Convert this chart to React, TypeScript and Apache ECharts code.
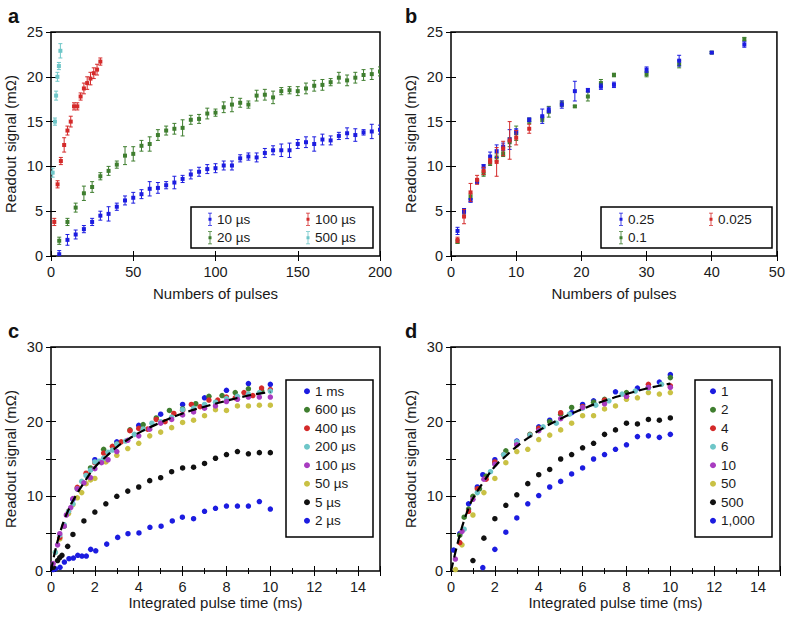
import React, { useEffect, useRef } from "react";
import * as echarts from "echarts";

// ---------- Panel a: [pulses, signal, error] ----------
const a10us = [[5,0.2,0.4],[10,1.8,0.6],[15,2.4,0.5],[20,3.0,0.4],[25,3.8,0.4],[30,4.5,0.5],[35,4.7,0.8],[40,5.5,0.4],[45,6.2,0.5],[50,6.5,0.6],[55,6.9,0.5],[60,7.5,0.8],[65,7.6,0.6],[70,7.9,0.4],[75,8.2,0.7],[80,8.6,0.4],[85,9.1,0.5],[90,9.4,0.5],[95,9.7,0.5],[100,9.8,0.5],[105,10.1,0.5],[110,10.1,0.5],[115,10.9,0.4],[120,11.1,0.4],[125,11.0,0.5],[130,11.5,0.5],[135,11.8,0.5],[140,11.8,0.7],[145,11.8,0.8],[150,12.5,0.5],[155,12.7,0.6],[160,12.5,0.8],[165,13.0,0.6],[170,12.9,0.5],[175,13.4,0.4],[180,13.7,0.6],[185,13.5,0.7],[190,13.8,0.3],[195,13.9,0.8],[200,14.1,0.5]];
const a20us = [[5,1.7,0.4],[10,3.8,0.4],[15,5.4,0.5],[20,7.0,0.8],[25,7.7,0.6],[30,8.9,0.4],[35,9.5,0.5],[40,10.2,0.4],[45,11.2,1.0],[50,11.4,0.8],[55,12.3,0.6],[60,12.5,0.8],[65,13.5,0.6],[70,14.0,0.5],[75,14.2,0.6],[80,14.3,0.9],[85,15.2,0.5],[90,15.3,0.5],[95,15.9,0.6],[100,16.0,0.4],[105,16.6,0.6],[110,16.9,0.8],[115,17.1,0.5],[120,16.9,0.4],[125,17.9,0.6],[130,18.0,0.6],[135,17.7,0.7],[140,18.4,0.4],[145,18.5,0.4],[150,18.4,0.5],[155,18.7,0.6],[160,19.0,0.6],[165,19.1,0.6],[170,19.4,0.4],[175,19.9,0.6],[180,19.6,0.6],[185,19.9,0.6],[190,20.2,0.6],[195,20.3,0.6],[200,20.6,0.5]];
const a100us = [[2,3.8,0.4],[4,8.0,0.4],[6,10.6,0.4],[8,12.4,0.8],[10,14.0,0.5],[12,15.0,0.6],[14,16.7,0.4],[16,16.7,0.4],[18,17.8,0.4],[20,18.7,0.6],[22,19.3,0.7],[24,19.8,0.7],[26,20.4,0.6],[28,20.8,0.6],[30,21.7,0.4]];
const a500us = [[1,9.3,0.5],[2.4,15.0,0.4],[3.1,17.9,0.5],[3.9,20.0,0.5],[4.8,21.2,0.4],[5.7,22.9,0.8]];

// ---------- Panel b: [pulses, signal, error] ----------
const b025 = [[1,2.8,0.4],[2,5.0,0.3],[3,6.2,0.2],[4,8.3,0.2],[5,10.0,0.2],[6,11.1,0.5],[7,11.7,0.7],[8,12.2,0.4],[9,13.0,1.1],[10,13.9,0.3],[12,15.2,0.2],[14,15.6,0.8],[15,16.3,0.3],[17,16.9,0.4],[19,18.4,1.1],[21,18.5,0.2],[23,18.9,0.3],[25,19.1,0.3],[30,20.8,0.3],[35,21.8,0.6],[40,22.7,0.1],[45,23.6,0.3]];
const b01 = [[1,1.6,0.2],[2,5.0,0.3],[3,6.6,0.3],[4,8.4,0.2],[5,9.2,0.3],[6,10.4,0.3],[7,11.0,0.4],[8,11.4,0.3],[9,12.7,0.5],[10,13.7,0.8],[12,15.1,0.3],[14,15.3,0.3],[15,16.1,0.6],[17,17.0,0.3],[19,16.7,0.1],[21,17.8,0.5],[23,19.3,0.4],[25,20.2,0.2],[30,20.3,0.3],[35,21.4,0.4],[40,22.7,0.1],[45,24.2,0.2]];
const b0025 = [[1,1.8,0.3],[2,4.4,0.8],[3,7.1,1.0],[4,8.5,0.5],[5,9.5,0.4],[6,10.6,0.3],[7,10.5,1.6],[8,12.0,0.8],[9,12.9,2.1],[10,13.2,0.8],[12,14.2,0.5]];

// ---------- Panel c: [integrated time (ms), signal] ----------
const c1ms = [[1,9.6],[2,14.9],[3,17.3],[4,19.5],[5,21.0],[6,22.3],[7,23.2],[8,24.2],[9,25.1],[10,25.0]];
const c600us = [[0.6,6.0],[1.2,11.0],[1.8,13.8],[2.4,16.3],[3.0,17.0],[3.6,18.9],[4.2,19.6],[4.8,20.5],[5.4,21.5],[6.0,21.7],[6.6,22.4],[7.2,23.4],[7.8,23.5],[8.4,23.9],[9.0,24.4],[9.6,24.2]];
const c400us = [[0.4,4.5],[0.8,8.0],[1.2,11.2],[1.6,13.1],[2.0,14.5],[2.4,15.8],[2.8,16.7],[3.2,17.3],[3.6,18.8],[4.0,19.1],[4.4,19.0],[4.8,20.3],[5.2,20.0],[5.6,21.1],[6.0,21.5],[6.4,22.3],[6.8,22.0],[7.2,22.9],[7.6,22.9],[8.0,23.3],[8.4,23.2],[8.8,23.9],[9.2,23.5],[9.6,24.5],[10.0,24.3]];
const c200us = [[0.2,2.5],[0.4,4.8],[0.6,6.2],[0.8,8.0],[1.0,9.0],[1.2,11.0],[1.4,12.0],[1.6,12.8],[1.8,13.5],[2.0,14.6],[2.2,14.7],[2.4,15.1],[2.6,15.9],[2.8,16.2],[3.0,17.0],[3.4,17.4],[3.8,18.3],[4.2,19.0],[4.6,19.8],[5.0,20.0],[5.5,20.6],[6.0,21.6],[6.5,21.8],[7.0,22.3],[7.5,22.6],[8.0,23.1],[8.5,23.4],[9.0,23.7],[9.5,23.9],[10,24.1]];
const c100us = [[0.1,1.0],[0.3,3.5],[0.4,5.0],[0.6,6.0],[0.7,7.5],[0.9,8.5],[1.0,9.7],[1.2,11.0],[1.5,11.8],[1.8,12.5],[2.0,13.7],[2.3,14.5],[2.6,14.9],[3.0,16.0],[3.5,17.5],[4.0,18.1],[4.5,19.0],[5.0,19.8],[5.5,20.3],[6.0,20.9],[6.5,21.3],[7.0,21.8],[7.5,22.1],[8.0,22.7],[8.5,23.0],[9.0,23.3],[9.5,23.3],[10,23.3]];
const c50us = [[0.2,2.5],[0.4,4.3],[0.6,6.1],[0.8,7.7],[1.0,8.9],[1.2,9.8],[1.4,10.5],[1.6,11.7],[1.8,12.2],[2.0,12.4],[2.5,14.6],[3.0,15.5],[3.5,16.4],[4.0,17.1],[4.5,18.1],[5.0,18.6],[5.5,19.2],[6.0,19.9],[6.5,20.2],[7.0,20.8],[7.5,21.6],[8.0,21.5],[8.5,22.1],[9.0,22.1],[9.5,22.2],[10,22.2]];
const c5us = [[0.1,0.5],[0.3,1.4],[0.4,1.8],[0.5,2.1],[0.76,3.3],[1.0,4.9],[1.5,6.7],[2.0,7.9],[2.5,9.0],[3.0,10.0],[3.5,10.7],[4.0,11.25],[4.5,12.1],[5.0,12.5],[5.5,13.3],[6.0,13.8],[6.5,13.9],[7.0,14.4],[7.5,15.1],[8.0,15.6],[8.5,16.0],[9.0,15.7],[9.5,15.85],[10,15.85]];
const c2us = [[0.1,0.2],[0.2,0.3],[0.41,0.5],[0.61,1.2],[0.82,1.65],[1.02,1.74],[1.22,2.1],[1.41,2.0],[1.61,2.0],[1.81,2.9],[2.04,2.7],[2.54,3.6],[3.04,4.5],[3.51,5.0],[4.01,5.1],[4.51,5.85],[5.02,6.0],[5.53,6.7],[5.99,7.2],[6.5,7.0],[7.0,8.0],[7.5,8.4],[8.0,8.7],[8.5,8.7],[9.0,8.7],[9.5,9.3],[10,8.3]];
const cFit = [[0,0],[0.2,2.8],[0.4,5.0],[0.6,6.8],[0.8,8.2],[1.0,9.4],[1.5,11.8],[2,13.9],[2.5,15.3],[3,16.6],[3.5,17.6],[4,18.5],[5,19.9],[6,21.1],[7,22.0],[8,22.8],[9,23.5],[10,24.0]];

// ---------- Panel d: [integrated time (ms), signal] ----------
const d1 = [[0.12,2.8],[0.4,5.0],[0.8,9.0],[1.2,11.25],[1.45,12.9],[2.0,14.9],[3.0,17.4],[4.0,19.3],[4.5,20.2],[5.5,21.2],[6.0,22.3],[6.5,22.8],[7.5,24.0],[8.5,24.5],[9.5,25.3],[10,26.3]];
const d2 = [[0.4,4.8],[0.6,7.2],[0.8,8.3],[1.0,10.0],[1.3,11.0],[1.6,12.7],[2.0,14.5],[2.5,16.1],[3.0,17.0],[3.6,18.3],[4.0,19.1],[4.5,20.0],[5.0,21.0],[5.5,21.9],[6.0,22.0],[6.5,22.6],[7.0,23.0],[8.0,23.9],[9.0,24.6],[10,25.9]];
const d4 = [[0.4,3.8],[0.8,8.0],[1.2,11.0],[1.6,12.3],[2.0,14.6],[2.4,15.6],[3.0,17.0],[3.6,18.2],[4.0,19.1],[5.0,21.2],[6.0,22.0],[7.0,22.9],[8.0,23.4],[9.0,25.0],[10,24.8]];
const d6 = [[0.6,5.6],[1.2,10.5],[1.8,13.3],[2.4,15.6],[3.0,17.3],[3.6,18.2],[4.2,19.3],[4.8,19.8],[5.4,21.0],[6.0,21.8],[6.6,22.2],[7.2,22.8],[7.8,23.7],[8.4,24.1],[9.0,24.5],[9.6,25.0]];
const d10 = [[0.2,1.6],[0.5,5.3],[1.0,9.6],[1.5,12.3],[2.0,14.3],[3.0,16.9],[4.0,18.8],[5.0,20.4],[6.0,21.9],[7.0,22.4],[8.0,23.4],[9.0,24.6],[10,24.6]];
const d50 = [[0.2,0.2],[0.5,3.5],[1.0,7.5],[1.5,10.5],[2.0,12.4],[2.5,14.5],[3.0,16.0],[3.5,16.3],[4.0,17.6],[4.5,18.2],[5.0,18.9],[5.5,19.8],[6.0,20.8],[6.5,20.8],[7.0,21.7],[7.5,22.1],[8.0,23.0],[8.5,23.2],[9.0,23.9],[9.5,23.7],[10,23.9]];
const d500 = [[1.0,1.4],[1.5,4.4],[2.0,7.0],[2.5,8.8],[3.0,10.2],[3.5,11.7],[4.0,12.9],[4.5,13.6],[5.0,15.0],[5.5,15.6],[6.0,16.5],[6.5,17.1],[7.0,18.3],[7.5,18.9],[8.0,19.8],[8.5,19.7],[9.0,20.3],[9.5,20.2],[10,20.5]];
const d1000 = [[1.45,0.45],[2.0,2.9],[2.5,5.2],[3.0,7.1],[3.5,9.0],[4.0,10.1],[4.5,11.25],[5.0,12.0],[5.5,13.0],[6.0,13.8],[6.5,15.0],[7.0,15.6],[7.5,16.3],[8.0,16.9],[8.5,18.0],[9.0,18.1],[9.5,17.9],[10,18.3]];
const dFit = [[0,0],[0.2,2.5],[0.4,4.8],[0.6,6.8],[0.8,8.4],[1.0,9.7],[1.5,12.0],[2,14.0],[2.5,15.4],[3,16.7],[3.5,17.8],[4,18.8],[5,20.4],[6,21.7],[7,22.8],[8,23.7],[9,24.5],[10,25.1]];

const FONT = "'Liberation Sans', Arial, Helvetica, sans-serif";
const BLUE = "#1c1ce0";
const GREEN = "#3f7e2f";
const RED = "#d42a2a";
const CYAN = "#6ec6c8";
const PURPLE = "#a83cc0";
const YELLOW = "#c9c144";
const BLACK = "#111111";
const TEXT = "#1a1a1a";

const ERR_ICON = "path://M0,0H4V0.8H2.4V12.2H4V13H0V12.2H1.6V0.8H0Z M0.5,5H3.5V8H0.5Z";

function errRender(color: string) {
  return (params: any, api: any) => {
    const x = api.value(0), y = api.value(1), e = api.value(2);
    const c = api.coord([x, y]);
    const hi = api.coord([x, y + e]);
    const lo = api.coord([x, y - e]);
    const cap = 2;
    const st = { stroke: color, lineWidth: 1 };
    return {
      type: "group",
      children: [
        { type: "line", shape: { x1: c[0], y1: hi[1], x2: c[0], y2: lo[1] }, style: st },
        { type: "line", shape: { x1: c[0] - cap, y1: hi[1], x2: c[0] + cap, y2: hi[1] }, style: st },
        { type: "line", shape: { x1: c[0] - cap, y1: lo[1], x2: c[0] + cap, y2: lo[1] }, style: st },
        { type: "rect", shape: { x: c[0] - 2, y: c[1] - 2, width: 4, height: 4 }, style: { fill: color } },
      ],
    };
  };
}

function errSeries(name: string, data: number[][], color: string, g: number) {
  return {
    type: "custom",
    name,
    xAxisIndex: g,
    yAxisIndex: g,
    data,
    encode: { x: 0, y: 1 },
    clip: true,
    itemStyle: { color },
    renderItem: errRender(color),
  };
}

function dotSeries(name: string, data: number[][], color: string, g: number) {
  return {
    type: "scatter",
    name,
    xAxisIndex: g,
    yAxisIndex: g,
    data,
    symbol: "circle",
    symbolSize: 5.5,
    itemStyle: { color, opacity: 1 },
    clip: true,
  };
}

function fitSeries(name: string, data: number[][], g: number) {
  return {
    type: "line",
    name,
    xAxisIndex: g,
    yAxisIndex: g,
    data,
    smooth: true,
    symbol: "none",
    lineStyle: { color: "#000", width: 2.2, type: [9, 5] },
    z: 5,
  };
}

const tickStyle = { color: "#000", width: 1 };

function xAxes(g: number, max: number, interval: number, name: string, gap: number, minor: boolean, showMax: boolean) {
  const base = {
    gridIndex: g,
    type: "value",
    min: 0,
    max,
    interval,
    axisLine: { show: false },
    axisTick: { show: true, inside: true, length: 5, lineStyle: tickStyle },
    minorTick: { show: minor, splitNumber: 2, length: 3, lineStyle: tickStyle },
    splitLine: { show: false },
    minorSplitLine: { show: false },
  };
  return [
    {
      ...base,
      position: "bottom",
      name,
      nameLocation: "middle",
      nameGap: gap,
      nameTextStyle: { fontSize: 15, color: TEXT, fontFamily: FONT },
      axisLabel: { fontSize: 14.5, color: TEXT, margin: 8, fontFamily: FONT, showMaxLabel: showMax },
    },
    { ...base, position: "top", axisLabel: { show: false } },
  ];
}

function yAxes(g: number, max: number, interval: number, minor: boolean) {
  const base = {
    gridIndex: g,
    type: "value",
    min: 0,
    max,
    interval,
    axisLine: { show: false },
    axisTick: { show: true, inside: true, length: 5, lineStyle: tickStyle },
    minorTick: { show: minor, splitNumber: 2, length: 5, lineStyle: tickStyle },
    splitLine: { show: false },
    minorSplitLine: { show: false },
  };
  return [
    {
      ...base,
      position: "left",
      name: "Readout signal (mΩ)",
      nameLocation: "middle",
      nameGap: 33,
      nameRotate: 90,
      nameTextStyle: { fontSize: 15, color: TEXT, fontFamily: FONT },
      axisLabel: { fontSize: 14.5, color: TEXT, margin: 8, fontFamily: FONT },
    },
    { ...base, position: "right", axisLabel: { show: false } },
  ];
}

function legend(names: string[], left: number, top: number, icon: string | null, w: number, h: number) {
  return {
    orient: "vertical",
    left,
    top,
    padding: 0,
    itemGap: 0,
    itemWidth: w,
    itemHeight: h,
    selectedMode: false,
    data: names.map((n) => (icon ? { name: n, icon } : { name: n, icon: "circle" })),
    formatter: (n: string) => n.split("|")[1],
    textStyle: { fontSize: 13.5, color: TEXT, fontFamily: FONT, lineHeight: 18.5 },
  };
}

function box(x: number, y: number, w: number, h: number) {
  return {
    type: "rect",
    shape: { x, y, width: w, height: h },
    style: { fill: "none", stroke: "#000", lineWidth: 1.5 },
    z: 10,
  };
}

export default function App() {
  const ref = useRef<HTMLDivElement>(null);
  useEffect(() => {
    document.body.style.margin = "0";
    const chart = echarts.init(ref.current as HTMLDivElement, null, { renderer: "svg" });
    const gridBase = { show: true, borderColor: "#000", borderWidth: 1.5, backgroundColor: "transparent" };
    const [xa0, xa1] = xAxes(0, 200, 50, "Numbers of pulses", 30, false, true);
    const [xb0, xb1] = xAxes(1, 50, 10, "Numbers of pulses", 30, false, true);
    const [xc0, xc1] = xAxes(2, 15, 2, "Integrated pulse time (ms)", 24, true, false);
    const [xd0, xd1] = xAxes(3, 15, 2, "Integrated pulse time (ms)", 24, true, false);
    const [ya0, ya1] = yAxes(0, 25, 5, false);
    const [yb0, yb1] = yAxes(1, 25, 5, false);
    const [yc0, yc1] = yAxes(2, 30, 10, true);
    const [yd0, yd1] = yAxes(3, 30, 10, true);

    const option: any = {
      animation: false,
      textStyle: { fontFamily: FONT },
      title: [
        { text: "a", left: 3, top: 1, textStyle: { fontSize: 20, fontWeight: "bold", color: "#111", fontFamily: FONT } },
        { text: "b", left: 400, top: 1, textStyle: { fontSize: 20, fontWeight: "bold", color: "#111", fontFamily: FONT } },
        { text: "c", left: 3, top: 316, textStyle: { fontSize: 20, fontWeight: "bold", color: "#111", fontFamily: FONT } },
        { text: "d", left: 400, top: 316, textStyle: { fontSize: 20, fontWeight: "bold", color: "#111", fontFamily: FONT } },
      ],
      grid: [
        { ...gridBase, left: 51, top: 32, width: 329, height: 224 },
        { ...gridBase, left: 451, top: 32, width: 329, height: 224 },
        { ...gridBase, left: 51, top: 347, width: 329, height: 224 },
        { ...gridBase, left: 451, top: 347, width: 329, height: 224 },
      ],
      xAxis: [xa0, xb0, xc0, xd0, xa1, xb1, xc1, xd1],
      yAxis: [ya0, yb0, yc0, yd0, ya1, yb1, yc1, yd1],
      legend: [
        legend(["a|10 µs", "a|20 µs"], 208, 210, ERR_ICON, 4, 13),
        legend(["a|100 µs", "a|500 µs"], 306, 210, ERR_ICON, 4, 13),
        legend(["b|0.25", "b|0.1"], 619, 210, ERR_ICON, 4, 13),
        legend(["b|0.025"], 709, 210, ERR_ICON, 4, 13),
        legend(["c|1 ms", "c|600 µs", "c|400 µs", "c|200 µs", "c|100 µs", "c|50 µs", "c|5 µs", "c|2 µs"], 304, 382, null, 6, 6),
        legend(["d|1", "d|2", "d|4", "d|6", "d|10", "d|50", "d|500", "d|1,000"], 710, 382, null, 6, 6),
      ],
      graphic: [box(191, 207, 182, 41), box(601, 207, 171, 41), box(286, 380, 87, 157), box(695, 380, 77, 157)],
      series: [
        errSeries("a|10 µs", a10us, BLUE, 0),
        errSeries("a|20 µs", a20us, GREEN, 0),
        errSeries("a|100 µs", a100us, RED, 0),
        errSeries("a|500 µs", a500us, CYAN, 0),
        errSeries("b|0.1", b01, GREEN, 1),
        errSeries("b|0.25", b025, BLUE, 1),
        errSeries("b|0.025", b0025, RED, 1),
        dotSeries("c|2 µs", c2us, BLUE, 2),
        dotSeries("c|5 µs", c5us, BLACK, 2),
        dotSeries("c|50 µs", c50us, YELLOW, 2),
        dotSeries("c|1 ms", c1ms, BLUE, 2),
        dotSeries("c|600 µs", c600us, GREEN, 2),
        dotSeries("c|400 µs", c400us, RED, 2),
        dotSeries("c|200 µs", c200us, CYAN, 2),
        dotSeries("c|100 µs", c100us, PURPLE, 2),
        fitSeries("c|fit", cFit, 2),
        dotSeries("d|1,000", d1000, BLUE, 3),
        dotSeries("d|500", d500, BLACK, 3),
        dotSeries("d|50", d50, YELLOW, 3),
        dotSeries("d|1", d1, BLUE, 3),
        dotSeries("d|2", d2, GREEN, 3),
        dotSeries("d|4", d4, RED, 3),
        dotSeries("d|6", d6, CYAN, 3),
        dotSeries("d|10", d10, PURPLE, 3),
        fitSeries("d|fit", dFit, 3),
      ],
    };
    chart.setOption(option);
    return () => chart.dispose();
  }, []);
  return <div ref={ref} style={{ width: 788, height: 617 }} />;
}
